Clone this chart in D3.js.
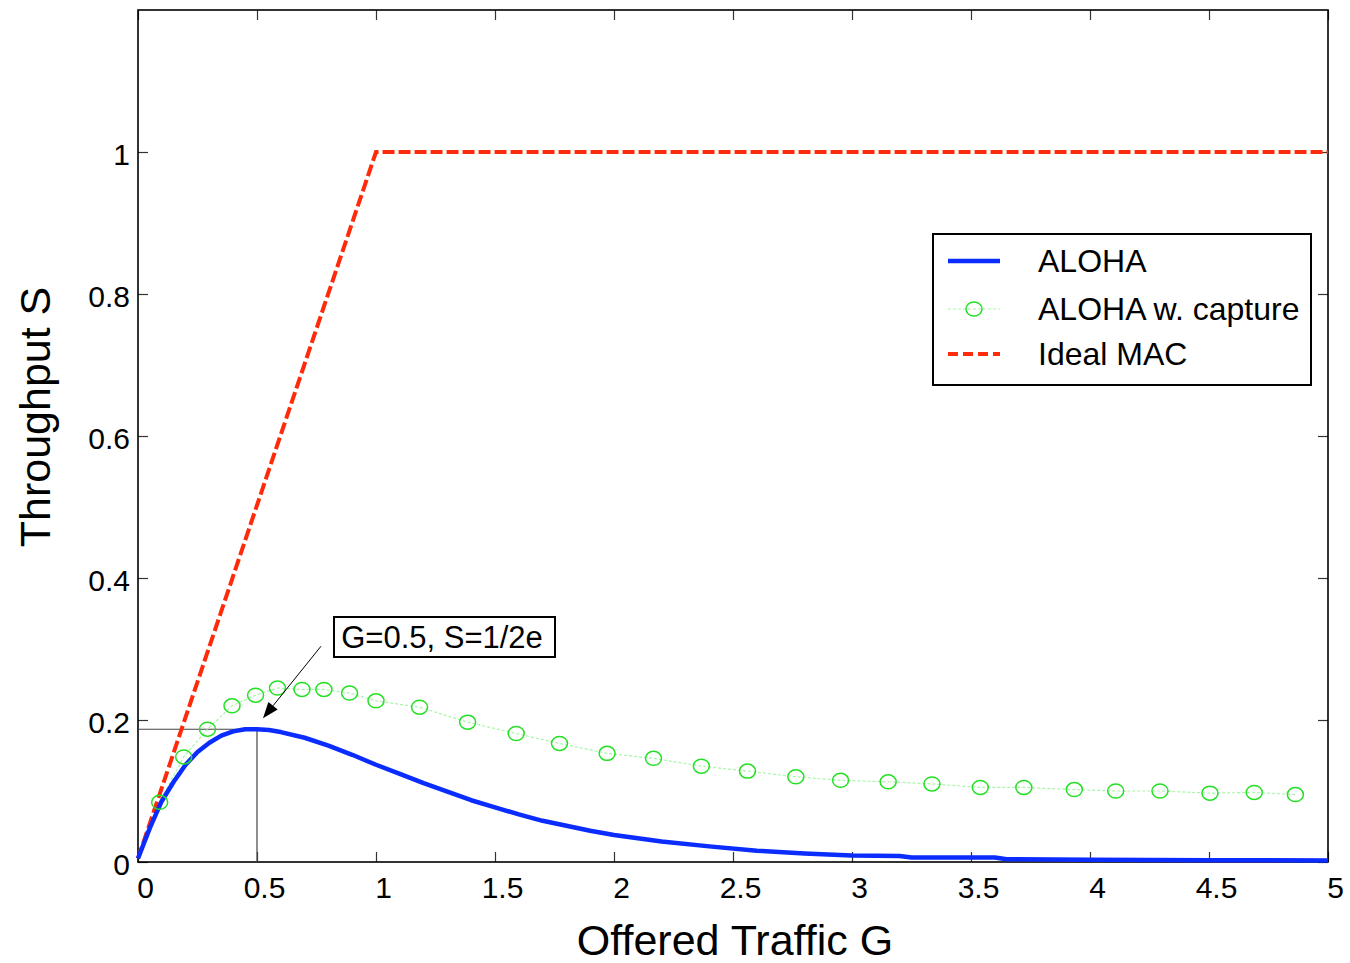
<!DOCTYPE html>
<html>
<head>
<meta charset="utf-8">
<script src="https://cdn.jsdelivr.net/npm/d3@7"></script>
<style>
  body { margin: 0; background: #fff; }
  text { font-family: "Liberation Sans", Arial, sans-serif; fill: #000; }
</style>
</head>
<body>
<div class="chart"></div>
<script>
// DATA ---------------------------------------------------------------

// pure ALOHA
const alohaG = [0, 0.05, 0.1, 0.15, 0.2, 0.25, 0.3, 0.35, 0.4, 0.45, 0.5, 0.55, 0.6, 0.7, 0.8, 0.9,
                1.0, 1.1, 1.2, 1.3, 1.4, 1.5, 1.6, 1.7, 1.8, 1.9, 2.0, 2.2, 2.4, 2.6, 2.8, 3.0,
                3.2, 3.25, 3.6, 3.65, 4.0, 4.5, 5.0];
const alohaS = [0.005, 0.048, 0.086, 0.113, 0.137, 0.155, 0.168, 0.178, 0.184, 0.187, 0.187, 0.186, 0.183, 0.175, 0.164, 0.151,
                0.137, 0.124, 0.111, 0.099, 0.087, 0.077, 0.067, 0.058, 0.051, 0.044, 0.038, 0.029, 0.022, 0.016, 0.012, 0.009,
                0.0085, 0.0062, 0.0062, 0.004, 0.003, 0.0025, 0.0022];

// ALOHA with capture (circles)
const captureG = [0.091, 0.192, 0.292, 0.395, 0.494, 0.586, 0.689, 0.781, 0.889, 1.0,
                  1.183, 1.385, 1.589, 1.771, 1.971, 2.166, 2.367, 2.561, 2.764, 2.952,
                  3.152, 3.336, 3.539, 3.722, 3.934, 4.108, 4.294, 4.504, 4.69, 4.863];
const captureS = [0.084, 0.148, 0.187, 0.220, 0.235, 0.245, 0.243, 0.243, 0.238, 0.227,
                  0.218, 0.197, 0.181, 0.167, 0.153, 0.146, 0.135, 0.128, 0.120, 0.115,
                  0.113, 0.110, 0.105, 0.105, 0.102, 0.100, 0.100, 0.097, 0.098, 0.095];

// ideal MAC
const idealG = [0, 1, 5];
const idealS = [0.005, 1, 1];

const xTicks = [0, 0.5, 1, 1.5, 2, 2.5, 3, 3.5, 4, 4.5, 5];
const yTicks = [0, 0.2, 0.4, 0.6, 0.8, 1];

const seriesNames = ['ALOHA', 'ALOHA w. capture', 'Ideal MAC'];

// annotation: maximum of pure ALOHA
const peakG = 0.5, peakS = 0.187;
const noteText = 'G=0.5, S=1/2e';

// CHART INIT ---------------------------------------------------------

const margin = ({top: 10, right: 22, bottom: 101, left: 138});
const width = 1350 - margin.left - margin.right;
const height = 963 - margin.top - margin.bottom;

const root = d3.select('.chart')
    .append('svg')
    .attr('width', 1350)
    .attr('height', 963);

const svg = root.append('g')
    .attr('transform', 'translate(' + margin.left + ',' + margin.top + ')');

const xScale = d3.scaleLinear().domain([0, 5]).range([0, width]);
const yScale = d3.scaleLinear().domain([0, 1.2]).range([height, 0]);

const blue = '#0a2cff';
const green = '#22e022';
const red = '#ff2a0a';

// axes (ticks pointing inwards, matlab style)
const fmt = d3.format('~g');

svg.append('g')
    .attr('class', 'x-axis')
    .attr('transform', 'translate(0,' + height + ')')
    .call(d3.axisBottom(xScale).tickValues(xTicks).tickFormat(fmt).tickSizeInner(-10).tickSizeOuter(0).tickPadding(15));

svg.append('g')
    .attr('class', 'x-axis-top')
    .call(d3.axisTop(xScale).tickValues(xTicks).tickFormat('').tickSizeInner(-10).tickSizeOuter(0));

svg.append('g')
    .attr('class', 'y-axis')
    .call(d3.axisLeft(yScale).tickValues(yTicks).tickFormat(fmt).tickSizeInner(-10).tickSizeOuter(0).tickPadding(8));

svg.append('g')
    .attr('class', 'y-axis-right')
    .attr('transform', 'translate(' + width + ',0)')
    .call(d3.axisRight(yScale).tickValues(yTicks).tickFormat('').tickSizeInner(-10).tickSizeOuter(0));

svg.selectAll('.domain').remove();
svg.selectAll('.tick line').attr('stroke', '#333').attr('stroke-width', 1.2);
svg.selectAll('.x-axis .tick text').attr('font-size', 30).attr('dx', 7);
svg.selectAll('.y-axis .tick text').attr('font-size', 30).attr('dy', '0.4em');

// frame
svg.append('rect')
    .attr('width', width)
    .attr('height', height)
    .attr('fill', 'none')
    .attr('stroke', '#000')
    .attr('stroke-width', 1.6);

// axis titles
svg.append('text')
    .attr('x', width / 2 + 2)
    .attr('y', height + 93)
    .attr('text-anchor', 'middle')
    .attr('font-size', 43)
    .text('Offered Traffic G');

svg.append('text')
    .attr('transform', 'translate(' + (50 - margin.left) + ',' + (417 - margin.top) + ') rotate(-90)')
    .attr('text-anchor', 'middle')
    .attr('font-size', 43)
    .text('Throughput S');

// LINES --------------------------------------------------------------

const line = d3.line()
    .x(d => xScale(d[0]))
    .y(d => yScale(d[1]));

const plot = svg.append('g');

// annotation guides
plot.append('path')
    .attr('d', line([[0, peakS], [peakG, peakS], [peakG, 0]]))
    .attr('fill', 'none')
    .attr('stroke', '#444')
    .attr('stroke-width', 1.2);

plot.append('path')
    .attr('d', line(d3.zip(captureG, captureS)))
    .attr('fill', 'none')
    .attr('stroke', '#a8f5a8')
    .attr('stroke-width', 1.2)
    .attr('stroke-dasharray', '3,2');

plot.append('path')
    .attr('d', line(d3.zip(idealG, idealS)))
    .attr('fill', 'none')
    .attr('stroke', red)
    .attr('stroke-width', 4)
    .attr('stroke-dasharray', '12,4');

plot.append('path')
    .attr('d', line(d3.zip(alohaG, alohaS)))
    .attr('fill', 'none')
    .attr('stroke', blue)
    .attr('stroke-width', 4.5)
    .attr('stroke-linejoin', 'round');

plot.selectAll('ellipse.cap')
    .data(d3.zip(captureG, captureS))
    .enter()
    .append('ellipse')
    .attr('class', 'cap')
    .attr('cx', d => xScale(d[0]))
    .attr('cy', d => yScale(d[1]))
    .attr('rx', 8)
    .attr('ry', 7)
    .attr('fill', 'none')
    .attr('stroke', green)
    .attr('stroke-width', 1.5);

// ANNOTATION ---------------------------------------------------------

const tipX = xScale(peakG) + 6, tipY = yScale(peakS) - 11;
const tailX = tipX + 58, tailY = tipY - 72;
const ang = Math.atan2(tipY - tailY, tipX - tailX);
const hl = 16, hw = 6;
const bx = tipX - hl * Math.cos(ang), by = tipY - hl * Math.sin(ang);

svg.append('line')
    .attr('x1', tailX).attr('y1', tailY)
    .attr('x2', bx).attr('y2', by)
    .attr('stroke', '#000')
    .attr('stroke-width', 1);

svg.append('polygon')
    .attr('points', [
        [tipX, tipY],
        [bx + hw * Math.sin(ang), by - hw * Math.cos(ang)],
        [bx - hw * Math.sin(ang), by + hw * Math.cos(ang)]
    ].map(p => p.join(',')).join(' '))
    .attr('fill', '#000');

const note = svg.append('g')
    .attr('transform', 'translate(' + (334 - margin.left) + ',' + (617 - margin.top) + ')');

note.append('rect')
    .attr('width', 221)
    .attr('height', 40)
    .attr('fill', '#fff')
    .attr('stroke', '#000')
    .attr('stroke-width', 2);

note.append('text')
    .attr('x', 108)
    .attr('y', 31)
    .attr('text-anchor', 'middle')
    .attr('font-size', 31)
    .text(noteText);

// LEGEND -------------------------------------------------------------

const legend = svg.append('g')
    .attr('transform', 'translate(' + (933 - margin.left) + ',' + (234 - margin.top) + ')');

legend.append('rect')
    .attr('width', 378)
    .attr('height', 151)
    .attr('fill', '#fff')
    .attr('stroke', '#000')
    .attr('stroke-width', 2);

const rowY = [27, 75, 120];

legend.append('line')
    .attr('x1', 15).attr('x2', 67).attr('y1', rowY[0]).attr('y2', rowY[0])
    .attr('stroke', blue).attr('stroke-width', 4.5);

legend.append('line')
    .attr('x1', 15).attr('x2', 67).attr('y1', rowY[1]).attr('y2', rowY[1])
    .attr('stroke', '#a8f5a8').attr('stroke-width', 1.2).attr('stroke-dasharray', '3,2');

legend.append('ellipse')
    .attr('cx', 41).attr('cy', rowY[1]).attr('rx', 8).attr('ry', 7)
    .attr('fill', 'none').attr('stroke', green).attr('stroke-width', 1.5);

legend.append('line')
    .attr('x1', 15).attr('x2', 67).attr('y1', rowY[2]).attr('y2', rowY[2])
    .attr('stroke', red).attr('stroke-width', 4).attr('stroke-dasharray', '10,5');

legend.selectAll('text.lbl')
    .data(seriesNames)
    .enter()
    .append('text')
    .attr('class', 'lbl')
    .attr('x', 105)
    .attr('y', (d, i) => rowY[i] + 11)
    .attr('font-size', 32)
    .text(d => d);
</script>
</body>
</html>
